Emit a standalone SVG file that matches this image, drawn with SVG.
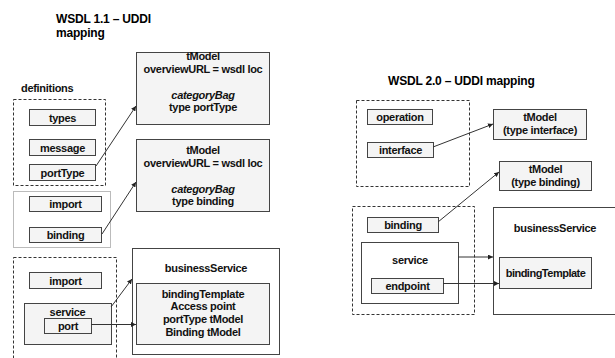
<svg xmlns="http://www.w3.org/2000/svg" width="615" height="358" viewBox="0 0 615 358">
<defs>
<style>
text{font-family:"Liberation Sans",Arial,sans-serif;font-size:11px;font-weight:bold;fill:#111;text-anchor:middle;letter-spacing:-0.3px}
.title{font-size:12px;text-anchor:start;letter-spacing:-0.2px;fill:#000}
.lbl{text-anchor:start}
.it{font-style:italic}
.box{fill:#f4f4f4;stroke:#444;stroke-width:1}
.wbox{fill:#fff;stroke:#444;stroke-width:1}
.dash{fill:none;stroke:#333;stroke-width:1;stroke-dasharray:3 2}
.dot{fill:none;stroke:#777;stroke-width:1;stroke-dasharray:1 1}
.conn{fill:none;stroke:#333;stroke-width:1;marker-end:url(#ah)}
</style>
<marker id="ah" viewBox="0 0 10 10" refX="10" refY="5" markerWidth="5" markerHeight="5" orient="auto" markerUnits="userSpaceOnUse">
<path d="M0,0 L10,5 L0,10 z" fill="#222"/>
</marker>
</defs>
<rect width="615" height="358" fill="#fff"/>

<g id="titles">
<text class="title" x="56" y="23">WSDL 1.1 – UDDI</text>
<text class="title" x="56" y="37">mapping</text>
<text class="title" x="388" y="85">WSDL 2.0 – UDDI mapping</text>
</g>

<g id="left-containers">
<text class="lbl" x="21" y="92">definitions</text>
<rect class="dash" x="13.5" y="99.5" width="92" height="86"/>
<rect class="dot" x="13.5" y="191.5" width="97" height="56"/>
<rect class="dash" x="13.5" y="257.5" width="103" height="110"/>
</g>

<g id="types"><rect class="box" x="29.5" y="109.5" width="66" height="16"/><text x="62.5" y="121.5">types</text></g>
<g id="message"><rect class="box" x="29.5" y="139.5" width="66" height="16"/><text x="62.5" y="151.5">message</text></g>
<g id="portType"><rect class="box" x="29.5" y="164.5" width="66" height="16"/><text x="62.5" y="176.5">portType</text></g>
<g id="import1"><rect class="box" x="29.5" y="196.5" width="72" height="15"/><text x="65.5" y="208">import</text></g>
<g id="binding1"><rect class="box" x="29.5" y="227.5" width="72" height="15"/><text x="65.5" y="239">binding</text></g>
<g id="import2"><rect class="box" x="29.5" y="272.5" width="72" height="16"/><text x="65.5" y="284.5">import</text></g>
<g id="service1"><rect class="box" x="24.5" y="303.5" width="87" height="41"/><text x="67.5" y="316">service</text></g>
<g id="port"><rect class="box" x="44.5" y="318.5" width="47" height="15"/><text x="68" y="330">port</text></g>

<g id="tModel1">
<rect class="box" x="136.5" y="52.5" width="133" height="72"/>
<text x="203" y="60">tModel</text>
<text x="203" y="73">overviewURL =  wsdl loc</text>
<text class="it" x="203" y="99">categoryBag</text>
<text x="203" y="111">type portType</text>
</g>
<g id="tModel2">
<rect class="box" x="136.5" y="139.5" width="133" height="72"/>
<text x="203" y="154">tModel</text>
<text x="203" y="167">overviewURL =  wsdl loc</text>
<text class="it" x="203" y="193">categoryBag</text>
<text x="203" y="205">type binding</text>
</g>
<g id="businessService1">
<rect class="wbox" x="132.5" y="248.5" width="147" height="106"/>
<text x="206" y="272">businessService</text>
</g>
<g id="bindingTemplate1">
<rect class="box" x="136.5" y="283.5" width="133" height="61"/>
<text x="203" y="298">bindingTemplate</text>
<text x="203" y="310">Access point</text>
<text x="203" y="323">portType tModel</text>
<text x="203" y="336">Binding tModel</text>
</g>

<g id="right-containers">
<rect class="dash" x="356.5" y="100.5" width="113" height="86"/>
<rect class="dash" x="352.5" y="206.5" width="122" height="108"/>
</g>
<g id="operation"><rect class="box" x="367.5" y="109.5" width="65" height="15"/><text x="400" y="121">operation</text></g>
<g id="interface"><rect class="box" x="367.5" y="142.5" width="66" height="15"/><text x="400.5" y="154">interface</text></g>
<g id="tModelInterface">
<rect class="box" x="493.5" y="109.5" width="93" height="30"/>
<text x="540" y="121">tModel</text>
<text x="540" y="134">(type interface)</text>
</g>
<g id="tModelBinding">
<rect class="box" x="499.5" y="161.5" width="92" height="29"/>
<text x="545.5" y="173">tModel</text>
<text x="545.5" y="186">(type binding)</text>
</g>
<g id="binding2"><rect class="box" x="367.5" y="217.5" width="71" height="15"/><text x="403" y="229">binding</text></g>
<g id="service2"><rect class="wbox" x="361.5" y="242.5" width="97" height="61"/><text x="410" y="264">service</text></g>
<g id="endpoint"><rect class="box" x="371.5" y="278.5" width="72" height="15"/><text x="407.5" y="290">endpoint</text></g>
<g id="businessService2">
<rect class="wbox" x="493.5" y="207.5" width="130" height="107"/>
<text x="555" y="232">businessService</text>
</g>
<g id="bindingTemplate2">
<rect class="box" x="499.5" y="257.5" width="92" height="31"/>
<text x="545.5" y="277" style="letter-spacing:-0.5px">bindingTemplate</text>
</g>

<g id="connectors">
<line class="conn" x1="96" y1="166" x2="136" y2="106"/>
<line class="conn" x1="102" y1="234" x2="136" y2="182"/>
<line class="conn" x1="111" y1="307" x2="132" y2="279"/>
<line class="conn" x1="91" y1="324.5" x2="136" y2="324.5"/>
<line class="conn" x1="433" y1="147" x2="493" y2="124"/>
<line class="conn" x1="438" y1="222" x2="499" y2="172"/>
<line class="conn" x1="458" y1="257" x2="493" y2="257"/>
<line class="conn" x1="443" y1="283.5" x2="499" y2="283.5"/>
</g>
</svg>
